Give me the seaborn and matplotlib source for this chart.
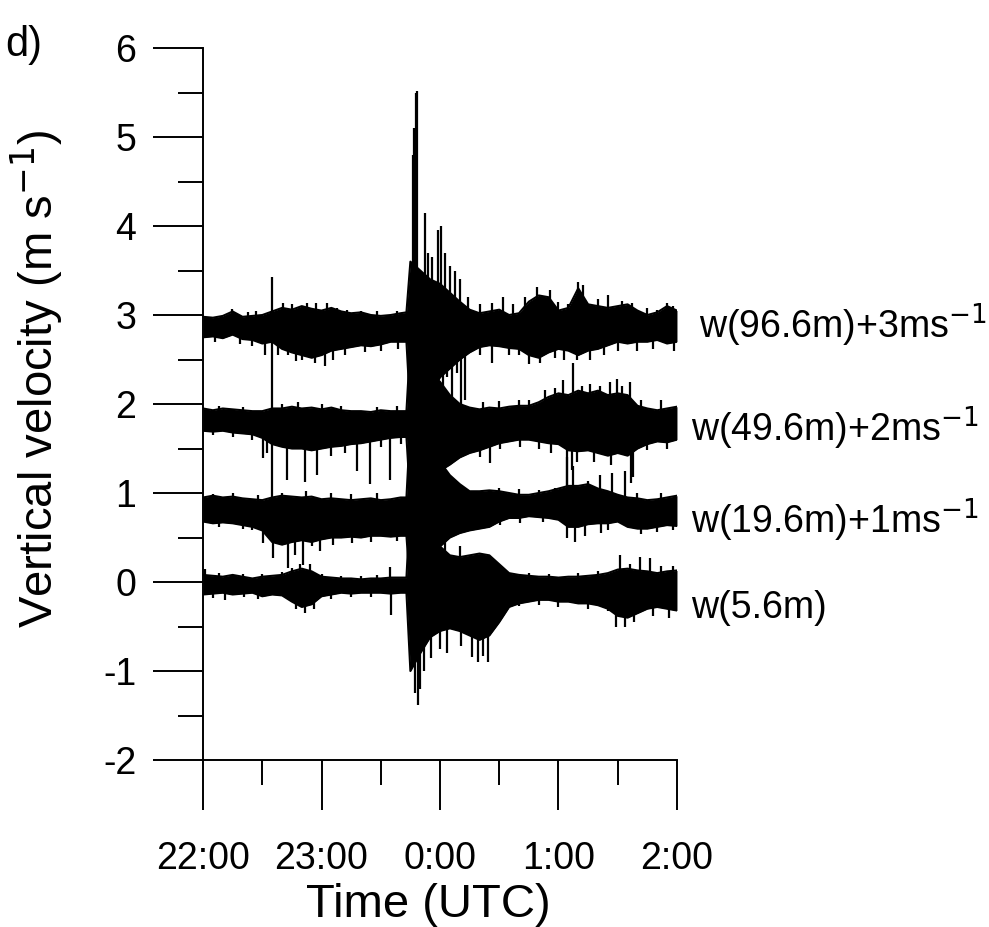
import numpy as np
import pandas as pd
import seaborn as sns
import matplotlib.pyplot as plt

sns.set_style("ticks")
plt.rcParams['font.family'] = ['Liberation Sans', 'DejaVu Sans']
plt.rcParams['axes.unicode_minus'] = False
for k in ['text.color', 'axes.labelcolor', 'xtick.color', 'ytick.color', 'axes.edgecolor']:
    plt.rcParams[k] = 'black'

# minutes after 22:00 UTC
minutes = list(range(0, 101, 5)) + [103] + list(range(105, 241, 5))

# upper / lower edges of each (noisy) trace, raw w in m/s
w96_hi = [-0.02, -0.03, -0.01, 0.04, -0.02, -0.01, 0.00, 0.04, 0.08, 0.06, 0.10, 0.07, 0.05, 0.08, 0.04, 0.02, 0.03, 0.00, -0.01, 0.00, 0.02,
          0.03,
          0.60, 0.50, 0.40, 0.35, 0.25, 0.15, 0.06, 0.02, 0.04, 0.06, 0.00, 0.02, 0.15, 0.22, 0.20, 0.05, 0.08, 0.30, 0.12, 0.10, 0.08, 0.10, 0.12, 0.05, 0.00, 0.03, 0.10, 0.05]
w96_lo = [-0.25, -0.24, -0.26, -0.22, -0.27, -0.28, -0.32, -0.30, -0.38, -0.42, -0.45, -0.48, -0.45, -0.40, -0.38, -0.36, -0.34, -0.35, -0.33, -0.30, -0.30,
          -0.30,
          -1.10, -1.00, -0.90, -0.70, -0.60, -0.50, -0.42, -0.36, -0.34, -0.35, -0.37, -0.38, -0.45, -0.48, -0.42, -0.38, -0.40, -0.45, -0.40, -0.38, -0.34, -0.30, -0.32, -0.30, -0.30, -0.28, -0.32, -0.30]

w49_hi = [-0.05, -0.07, -0.05, -0.06, -0.07, -0.08, -0.08, -0.05, -0.05, -0.03, -0.05, -0.04, -0.06, -0.04, -0.07, -0.08, -0.08, -0.09, -0.07, -0.08, -0.08,
          -0.08,
          0.70, 0.55, 0.35, 0.25, 0.10, 0.00, -0.04, -0.06, -0.04, -0.05, -0.03, -0.02, -0.02, 0.02, 0.08, 0.12, 0.10, 0.15, 0.12, 0.15, 0.10, 0.12, 0.10, -0.02, -0.05, -0.07, -0.05, -0.03]
w49_lo = [-0.30, -0.31, -0.30, -0.32, -0.33, -0.34, -0.38, -0.45, -0.48, -0.50, -0.50, -0.52, -0.50, -0.48, -0.47, -0.45, -0.44, -0.42, -0.40, -0.38, -0.37,
          -0.37,
          -1.10, -1.00, -0.85, -0.75, -0.68, -0.60, -0.55, -0.52, -0.48, -0.44, -0.42, -0.40, -0.40, -0.42, -0.44, -0.45, -0.52, -0.53, -0.52, -0.55, -0.58, -0.55, -0.58, -0.50, -0.45, -0.42, -0.43, -0.40]

w19_hi = [-0.05, -0.03, -0.05, -0.04, -0.06, -0.07, -0.08, -0.05, -0.03, -0.04, -0.05, -0.04, -0.07, -0.06, -0.07, -0.08, -0.07, -0.06, -0.08, -0.07, -0.05,
          -0.05,
          0.80, 0.70, 0.50, 0.35, 0.20, 0.10, 0.02, 0.02, 0.03, 0.02, 0.00, -0.02, -0.02, 0.00, 0.02, 0.05, 0.08, 0.08, 0.10, 0.05, 0.02, -0.02, -0.05, -0.06, -0.08, -0.07, -0.05, -0.03]
w19_lo = [-0.32, -0.34, -0.33, -0.34, -0.36, -0.38, -0.42, -0.55, -0.58, -0.55, -0.53, -0.55, -0.52, -0.50, -0.50, -0.49, -0.50, -0.48, -0.48, -0.49, -0.48,
          -0.48,
          -1.10, -1.00, -0.75, -0.60, -0.50, -0.45, -0.42, -0.40, -0.38, -0.32, -0.28, -0.28, -0.26, -0.27, -0.28, -0.30, -0.38, -0.38, -0.35, -0.34, -0.34, -0.32, -0.38, -0.40, -0.40, -0.38, -0.36, -0.37]

w5_hi = [0.08, 0.07, 0.06, 0.08, 0.06, 0.04, 0.06, 0.07, 0.08, 0.12, 0.15, 0.12, 0.06, 0.05, 0.04, 0.04, 0.03, 0.04, 0.04, 0.05, 0.05,
         0.05,
         0.90, 0.80, 0.55, 0.40, 0.30, 0.28, 0.30, 0.32, 0.30, 0.20, 0.10, 0.08, 0.07, 0.06, 0.06, 0.05, 0.06, 0.06, 0.07, 0.08, 0.10, 0.14, 0.15, 0.13, 0.12, 0.10, 0.12, 0.13]
w5_lo = [-0.14, -0.13, -0.12, -0.14, -0.13, -0.12, -0.16, -0.14, -0.15, -0.22, -0.28, -0.25, -0.16, -0.14, -0.12, -0.13, -0.12, -0.12, -0.12, -0.13, -0.12,
         -0.12,
         -1.00, -0.80, -0.62, -0.55, -0.52, -0.55, -0.60, -0.65, -0.60, -0.45, -0.28, -0.24, -0.22, -0.20, -0.20, -0.22, -0.22, -0.24, -0.24, -0.26, -0.30, -0.38, -0.40, -0.35, -0.30, -0.28, -0.30, -0.32]

# isolated excursions (minute, raw w)
w96_spk_t = [35, 40.5, 52.7, 62.8, 67.8, 106.3, 106.8, 107.8, 108.4, 112.4, 114, 116, 119, 120.5, 122.5, 125, 127.6, 130, 134.2, 146.3, 151.9, 169, 175.7, 189.9, 192.4, 217.2, 235,
             14.7, 22.8, 27, 45, 57, 73, 80, 88, 98, 140, 157, 163, 180, 185, 200, 205, 212, 225, 230, 238,
             31.4, 43, 50, 56.7, 61.8, 121.5, 123.5, 126, 128.6, 130.5, 132.7, 134.5, 146.5, 170.6, 189.4, 196, 219.7,
             6, 18.7, 25, 38, 47, 66, 72, 82, 90, 98.5, 140.5, 155, 160, 165, 178, 183, 203, 210, 228, 238.5]
w96_spk_v = [0.43, 0.13, 0.13, 0.13, 0.08, 1.8, 2.1, 2.5, 2.52, 1.15, 0.7, 0.65, 0.95, 1.0, 0.7, 0.55, 0.5, 0.4, 0.2, 0.13, 0.2, 0.31, 0.28, 0.37, 0.34, 0.13, 0.13,
             0.07, 0.03, 0.04, 0.12, 0.14, 0.06, 0.05, 0.04, 0.05, 0.12, 0.12, 0.2, 0.15, 0.12, 0.18, 0.22, 0.16, 0.08, 0.06, 0.1,
             -0.45, -0.45, -0.51, -0.54, -0.57, -0.9, -0.7, -0.95, -0.65, -1.0, -0.95, -0.4, -0.54, -0.54, -0.51, -0.51, -0.4,
             -0.3, -0.33, -0.35, -0.45, -0.52, -0.5, -0.45, -0.42, -0.4, -0.38, -0.45, -0.45, -0.45, -0.55, -0.48, -0.5, -0.45, -0.4, -0.38, -0.4]

w49_spk_t = [35, 108, 173.2, 182.3, 187.3, 191.9, 201, 206, 209.6, 216.2,
             8, 20, 40, 48, 60, 70, 88, 98, 142, 150, 160, 165, 178, 196, 212, 222, 232,
             30.4, 32.4, 42.5, 51.6, 57.7, 78, 84.6, 94.7, 140.3, 145.3, 184.3, 186.8, 189.4, 216.5, 217.7,
             5, 15, 25, 65, 72, 90, 100, 150.5, 160.5, 170, 176, 198, 206.5, 225, 235]
w49_spk_v = [1.05, 0.9, 0.16, 0.27, 0.46, 0.2, 0.2, 0.25, 0.28, 0.25,
             -0.02, -0.03, 0.0, 0.02, 0.0, -0.02, -0.03, -0.02, 0.02, 0.03, 0.04, 0.05, 0.18, 0.22, 0.2, 0.05, 0.04,
             -0.61, -0.55, -0.85, -0.88, -0.8, -0.75, -0.9, -0.85, -0.6, -0.66, -1.0, -0.74, -0.65, -0.89, -0.82,
             -0.35, -0.37, -0.4, -0.58, -0.55, -0.48, -0.45, -0.5, -0.48, -0.5, -0.55, -0.65, -0.68, -0.52, -0.5]

w19_spk_t = [35, 184.3, 187.3, 201, 207, 213.7,
             5, 15, 28, 40, 52, 65, 75, 88, 150, 160, 170, 178, 195, 220, 232,
             30.4, 35.5, 43, 46.6, 50.6, 59, 184.5, 188.4, 193.4, 201.5,
             8, 20, 25, 55, 66, 75.5, 85, 98, 150.5, 160.5, 172, 205, 222, 230, 238]
w19_spk_v = [0.7, 0.4, 0.3, 0.2, 0.22, 0.25,
             -0.01, 0.0, -0.02, 0.0, 0.02, 0.0, -0.01, 0.0, 0.06, 0.04, 0.03, 0.06, 0.14, 0.0, 0.0,
             -0.56, -0.73, -0.84, -0.7, -0.81, -0.65, -0.5, -0.55, -0.48, -0.45,
             -0.38, -0.4, -0.42, -0.6, -0.58, -0.56, -0.55, -0.54, -0.36, -0.34, -0.33, -0.42, -0.46, -0.44, -0.42]

w5_spk_t = [1, 49, 54, 94.7, 114.9, 122.5, 130, 211, 221.3, 226.3,
            8, 20, 30, 40, 45, 60, 70, 80, 88, 155, 165, 175, 190, 200, 216, 232, 238,
            11, 51.6, 95, 107.3, 108.9, 109.9, 111.9, 115.2, 120, 123.5, 130.5, 136.2, 139.2, 141.8, 144.3, 209, 213.7,
            5, 20.5, 28, 47, 56, 65, 75, 85, 150, 160, 170, 180, 195, 205, 218, 228, 236]
w5_spk_v = [0.15, 0.2, 0.2, 0.17, 0.6, 0.45, 0.4, 0.3, 0.28, 0.27,
            0.1, 0.09, 0.09, 0.11, 0.16, 0.09, 0.07, 0.07, 0.08, 0.1, 0.1, 0.09, 0.1, 0.12, 0.2, 0.18, 0.18,
            -0.2, -0.35, -0.37, -1.25, -1.38, -1.2, -1.0, -0.85, -0.75, -0.8, -0.72, -0.84, -0.9, -0.83, -0.9, -0.5, -0.5,
            -0.18, -0.17, -0.19, -0.3, -0.3, -0.19, -0.17, -0.17, -0.3, -0.27, -0.26, -0.28, -0.3, -0.32, -0.45, -0.38, -0.4]

offsets = [3, 2, 1, 0]
labels = ["w(96.6m)+3ms$^{-1}$", "w(49.6m)+2ms$^{-1}$", "w(19.6m)+1ms$^{-1}$", "w(5.6m)"]
label_y = [2.89, 1.73, 0.70, -0.29]
label_x = [251, 247, 247, 247]
his = [w96_hi, w49_hi, w19_hi, w5_hi]
los = [w96_lo, w49_lo, w19_lo, w5_lo]
spk_t = [w96_spk_t, w49_spk_t, w19_spk_t, w5_spk_t]
spk_v = [w96_spk_v, w49_spk_v, w19_spk_v, w5_spk_v]

fig = plt.figure(figsize=(9.89, 9.27), dpi=100)
ax = fig.add_axes([0.2053, 0.1801, 0.4792, 0.7681])

t = np.array(minutes, dtype=float)
for off, hi, lo, st, sv in zip(offsets, his, los, spk_t, spk_v):
    hi = np.array(hi) + off
    lo = np.array(lo) + off
    d = pd.DataFrame({"t": t, "hi": hi, "lo": lo})
    ax.fill_between(d["t"], d["lo"], d["hi"], color="black", lw=0)
    sns.lineplot(data=d, x="t", y="hi", color="black", lw=1.5, ax=ax)
    sns.lineplot(data=d, x="t", y="lo", color="black", lw=1.5, ax=ax)
    st = np.array(st, dtype=float)
    base = np.interp(st, t, (hi + lo) / 2)
    ax.vlines(st, base, np.array(sv) + off, colors="black", lw=1.6)

for lx, ly, lab in zip(label_x, label_y, labels):
    ax.text(lx, ly, lab, fontsize=27, ha="left", va="center", clip_on=False)

ax.set_xlim(0, 240)
ax.set_ylim(-2, 6)
ax.set_xticks([0, 60, 120, 180, 240])
ax.set_xticklabels(["22:00", "23:00", "0:00", "1:00", "2:00"])
ax.set_xticks([30, 90, 150, 210], minor=True)
ax.set_yticks(range(-2, 7))
ax.set_yticks(np.arange(-1.5, 6, 1), minor=True)
ax.tick_params(which="major", length=36, width=1.4, labelsize=27, direction="out")
ax.tick_params(which="minor", length=18, width=1.4)
ax.tick_params(axis="x", pad=22)
ax.tick_params(axis="y", pad=12)
sns.despine(ax=ax)
for s in ["left", "bottom"]:
    ax.spines[s].set_linewidth(1.4)

ax.set_xlabel("Time (UTC)", fontsize=34)
ax.set_ylabel("Vertical velocity (m s$^{-1}$)", fontsize=34)
ax.xaxis.set_label_coords(0.475, -0.172)
ax.yaxis.set_label_coords(-0.29, 0.535)
fig.text(5 / 989, 1 - 45 / 927, "d)", fontsize=30, ha="left", va="center")

fig.savefig("out.png", dpi=100)
